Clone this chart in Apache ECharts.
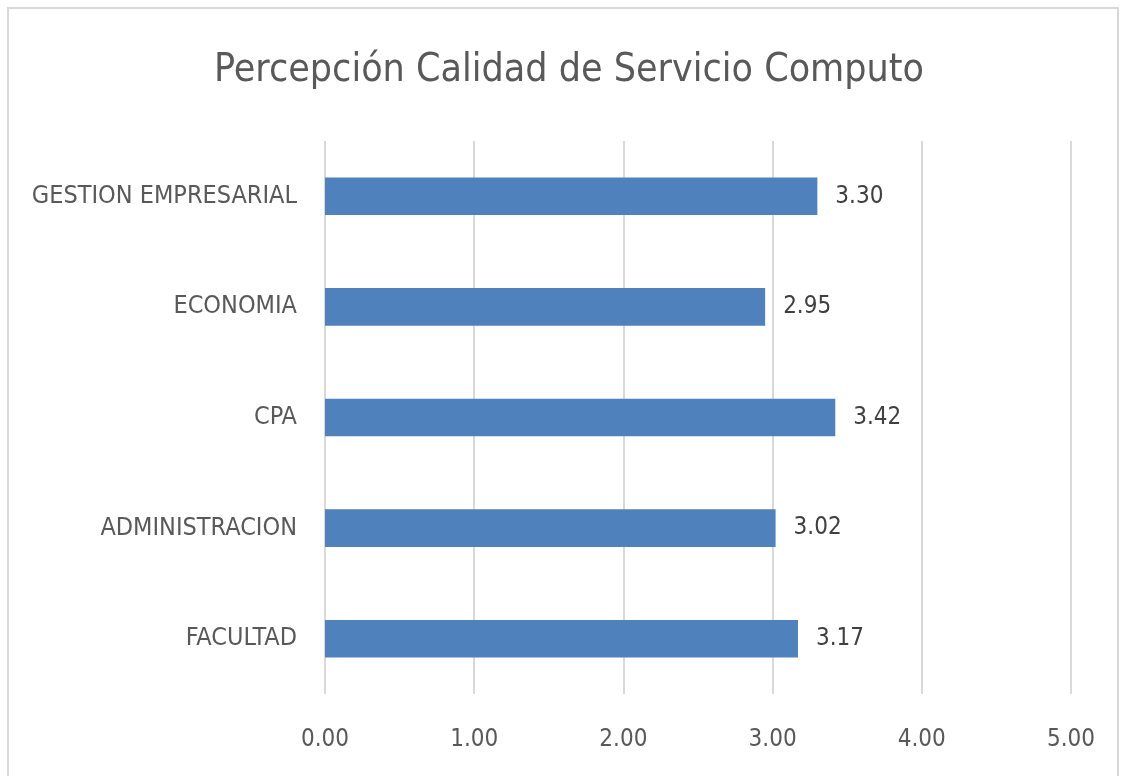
<!DOCTYPE html>
<html><head><meta charset="utf-8">
<script src="https://cdn.jsdelivr.net/npm/echarts@6/dist/echarts.min.js"></script>
<style>html,body{margin:0;padding:0;background:#fff}#c{width:1125px;height:776px}</style>
</head><body><div id="c"></div>
<script>
const categories = ["FACULTAD", "ADMINISTRACION", "CPA", "ECONOMIA", "GESTION EMPRESARIAL"];
const values = [3.17, 3.02, 3.42, 2.95, 3.30];
const title = "Percepción Calidad de Servicio Computo";
const FONT = "'Liberation Sans Narrow', 'DejaVu Sans Condensed', sans-serif";
const chart = echarts.init(document.getElementById('c'));
chart.setOption({
  animation: false,
  backgroundColor: '#fff',
  graphic: [{type: 'rect', shape: {x: 8, y: 8, width: 1110, height: 800}, style: {fill: 'none', stroke: '#d9d9d9', lineWidth: 2}}],
  title: {text: title, left: 209, top: 46, textStyle: {fontFamily: FONT, fontSize: 39, fontWeight: 'normal', color: '#595959'}},
  grid: {left: 325, right: 54, top: 141, bottom: 82},
  xAxis: {type: 'value', min: 0, max: 5, interval: 1,
    axisLine: {show: false}, axisTick: {show: false},
    splitLine: {lineStyle: {color: '#d9d9d9', width: 2}},
    axisLabel: {formatter: v => v.toFixed(2), fontFamily: FONT, fontSize: 24, color: '#595959', margin: 34}},
  yAxis: {type: 'category', data: categories,
    axisLine: {show: false}, axisTick: {show: false},
    axisLabel: {fontFamily: FONT, fontSize: 25, color: '#595959', margin: 28}},
  series: [{type: 'bar', data: values, barWidth: '34%', itemStyle: {color: '#4f81bd'},
    label: {show: true, position: 'right', distance: 18, formatter: p => p.value.toFixed(2), fontFamily: FONT, fontSize: 24, color: '#404040'}}]
});
</script></body></html>
